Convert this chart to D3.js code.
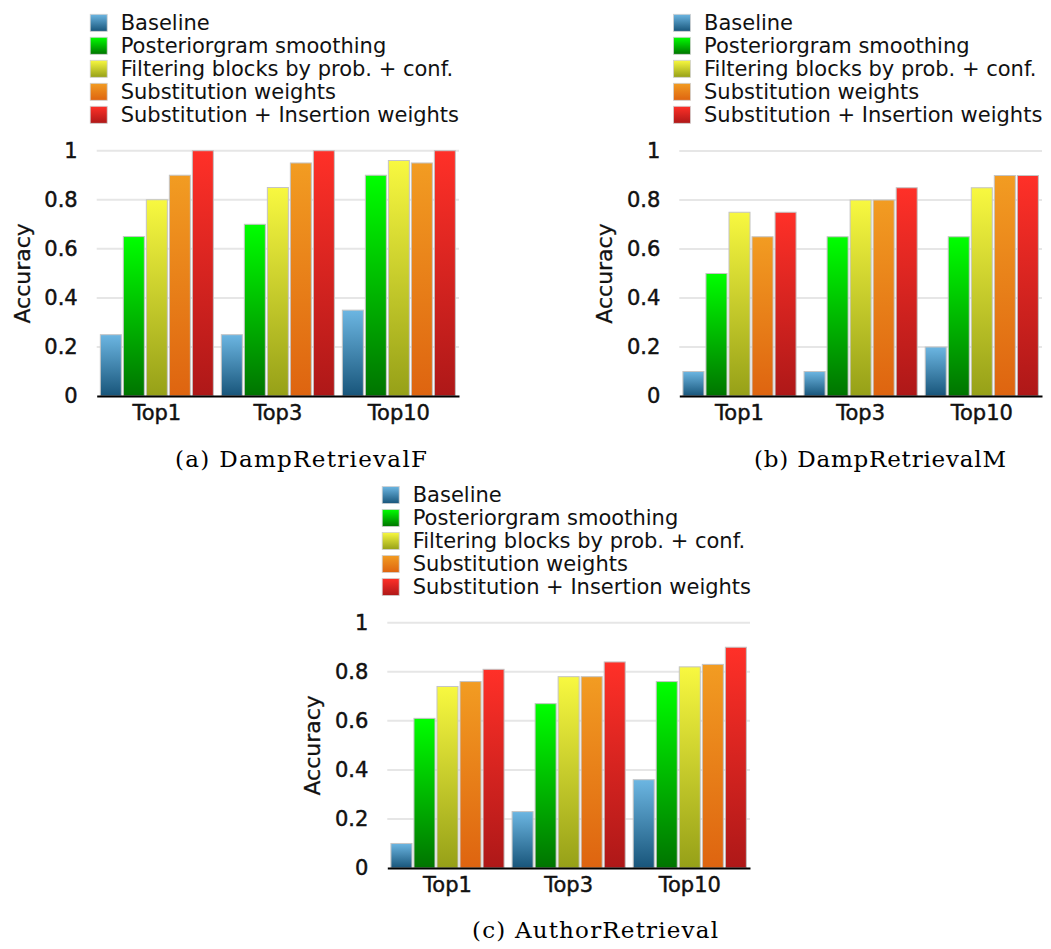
<!DOCTYPE html>
<html>
<head>
<meta charset="utf-8">
<script src="https://cdn.jsdelivr.net/npm/d3@7"></script>
<style>
  body { margin: 0; background: #fff; }
  svg text { font-family: "DejaVu Sans", sans-serif; fill: #111; }
  svg text.caption { font-family: "DejaVu Serif", serif; fill: #000; }
</style>
</head>
<body>
<div id="app"></div>
<script>
// categories on the x axis
let categories = ['Top1', 'Top3', 'Top10'];
// series, in legend order
let seriesNames = [
  'Baseline',
  'Posteriorgram smoothing',
  'Filtering blocks by prob. + conf.',
  'Substitution weights',
  'Substitution + Insertion weights'
];
let yTicks = [0, 0.2, 0.4, 0.6, 0.8, 1];

// values per series, one per category
let dampF_baseline = [0.25, 0.25, 0.35];
let dampF_smooth   = [0.65, 0.70, 0.90];
let dampF_filter   = [0.80, 0.85, 0.96];
let dampF_subst    = [0.90, 0.95, 0.95];
let dampF_substIns = [1.00, 1.00, 1.00];

let dampM_baseline = [0.10, 0.10, 0.20];
let dampM_smooth   = [0.50, 0.65, 0.65];
let dampM_filter   = [0.75, 0.80, 0.85];
let dampM_subst    = [0.65, 0.80, 0.90];
let dampM_substIns = [0.75, 0.85, 0.90];

let author_baseline = [0.10, 0.23, 0.36];
let author_smooth   = [0.61, 0.67, 0.76];
let author_filter   = [0.74, 0.78, 0.82];
let author_subst    = [0.76, 0.78, 0.83];
let author_substIns = [0.81, 0.84, 0.90];

// gradient top / bottom colours per series
let gradTop    = ['#6cb6e2', '#00ff00', '#f8f840', '#f29c22', '#ff3028'];
let gradBottom = ['#18557a', '#007400', '#96a018', '#de6410', '#ae1818'];

let svgWidth = 1051, svgHeight = 949;

let svg = d3.select('#app').append('svg')
    .attr('width', svgWidth)
    .attr('height', svgHeight);

        //one vertical gradient per series, relative to each bar
let defs = svg.append('defs');
seriesNames.forEach((s, i) => {
    let g = defs.append('linearGradient')
        .attr('id', 'grad' + i)
        .attr('x1', 0).attr('y1', 0).attr('x2', 0).attr('y2', 1);
    g.append('stop').attr('offset', '0%').attr('stop-color', gradTop[i]);
    g.append('stop').attr('offset', '100%').attr('stop-color', gradBottom[i]);
});

let panels = [
    {
        caption: '(a) DampRetrievalF',
        series: [dampF_baseline, dampF_smooth, dampF_filter, dampF_subst, dampF_substIns],
        left: 96.7, right: 459, top: 150.7, bottom: 396,
        legendX: 120.7, legendY: 22.3,
        captionX: 301, captionY: 467, captionW: 252
    },
    {
        caption: '(b) DampRetrievalM',
        series: [dampM_baseline, dampM_smooth, dampM_filter, dampM_subst, dampM_substIns],
        left: 679.3, right: 1042, top: 151, bottom: 396,
        legendX: 704, legendY: 22.3,
        captionX: 880, captionY: 467, captionW: 252
    },
    {
        caption: '(c) AuthorRetrieval',
        series: [author_baseline, author_smooth, author_filter, author_subst, author_substIns],
        left: 387.3, right: 750, top: 622.7, bottom: 868,
        legendX: 412.7, legendY: 494.5,
        captionX: 595, captionY: 938, captionW: 246
    }
];

panels.forEach(drawPanel);

function drawPanel(p) {
    let g = svg.append('g');

    let x0 = d3.scaleBand()
        .domain(categories)
        .range([p.left, p.right])
        .paddingInner(0.066)
        .paddingOuter(0.03);

    let x1 = d3.scaleBand()
        .domain(d3.range(seriesNames.length))
        .range([0, x0.bandwidth()])
        .paddingInner(0.087);

    let y = d3.scaleLinear()
        .domain([0, 1])
        .range([p.bottom, p.top]);

            //grid lines
    g.append('g')
        .selectAll('line')
        .data(yTicks.slice(1))
        .enter().append('line')
            .attr('x1', p.left)
            .attr('x2', p.right)
            .attr('y1', d => y(d))
            .attr('y2', d => y(d))
            .attr('stroke', '#e6e6e6')
            .attr('stroke-width', 2);

            //y axis, labels only
    let yAxis = g.append('g')
        .attr('transform', `translate(${p.left},0)`)
        .call(d3.axisLeft(y).tickValues(yTicks).tickFormat(d3.format('')).tickSize(0).tickPadding(19));
    yAxis.select('.domain').remove();
    yAxis.selectAll('text')
        .attr('font-size', 21)
        .attr('font-family', null)
        .attr('fill', '#111')
        .attr('stroke', '#111')
        .attr('stroke-width', 0.45);

            //bars
    let groups = g.append('g')
        .selectAll('g')
        .data(categories)
        .enter().append('g')
            .attr('transform', d => `translate(${x0(d)},0)`);

    groups.selectAll('rect')
        .data((d, ci) => p.series.map((vals, si) => ({si: si, v: vals[ci]})))
        .enter().append('rect')
            .attr('x', d => x1(d.si))
            .attr('y', d => y(d.v))
            .attr('width', x1.bandwidth())
            .attr('height', d => y(0) - y(d.v))
            .attr('fill', d => `url(#grad${d.si})`)
            .attr('stroke', '#c4c4c4')
            .attr('stroke-width', 1);

            //x axis
    let xAxis = g.append('g')
        .attr('transform', `translate(0,${p.bottom})`)
        .call(d3.axisBottom(x0).tickSize(0).tickPadding(9).tickSizeOuter(0));
    xAxis.select('.domain')
        .attr('stroke', '#000')
        .attr('stroke-width', 2);
    xAxis.selectAll('text')
        .attr('font-size', 21)
        .attr('font-family', null)
        .attr('fill', '#111')
        .attr('stroke', '#111')
        .attr('stroke-width', 0.45);

            //axis title
    g.append('text')
        .attr('transform', `translate(${p.left - 67},${(p.top + p.bottom) / 2}) rotate(-90)`)
        .attr('text-anchor', 'middle')
        .attr('font-size', 22)
        .attr('stroke', '#111')
        .attr('stroke-width', 0.3)
        .text('Accuracy');

            //legend
    let legend = g.append('g')
        .selectAll('g')
        .data(seriesNames)
        .enter().append('g')
            .attr('transform', (d, i) => `translate(${p.legendX},${p.legendY + i * 23})`);
    legend.append('rect')
        .attr('x', -30.5)
        .attr('y', -8)
        .attr('width', 17)
        .attr('height', 17)
        .attr('fill', (d, i) => `url(#grad${i})`)
        .attr('stroke', '#d0d0d0')
        .attr('stroke-width', 0.8);
    legend.append('text')
        .attr('x', 0)
        .attr('dy', '0.35em')
        .attr('font-size', 21)
        .text(d => d);

            //caption under the panel
    g.append('text')
        .attr('class', 'caption')
        .attr('x', p.captionX)
        .attr('y', p.captionY)
        .attr('text-anchor', 'middle')
        .attr('font-size', 23)
        .attr('textLength', p.captionW)
        .attr('lengthAdjust', 'spacing')
        .text(p.caption);
}
</script>
</body>
</html>
